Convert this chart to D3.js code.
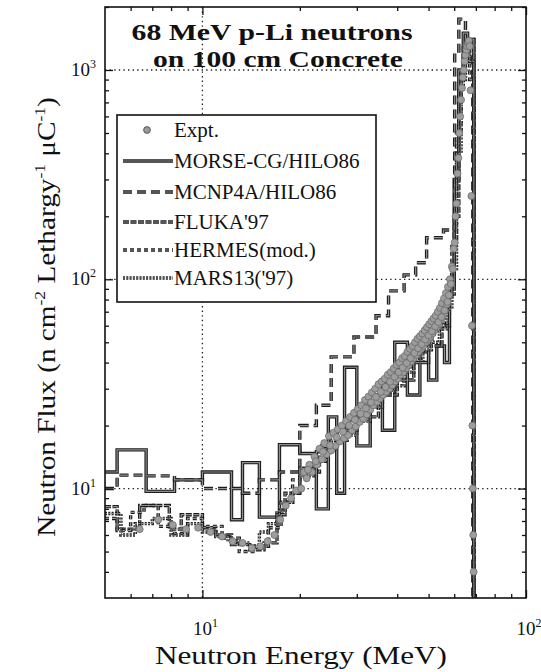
<!DOCTYPE html>
<html>
<head>
<meta charset="utf-8">
<script src="https://cdn.jsdelivr.net/npm/d3@7"></script>
<style>
  html, body { margin: 0; padding: 0; background: #fff; }
  svg { display: block; }
  text { font-family: "Liberation Serif", "Times New Roman", serif; fill: #111; }
</style>
</head>
<body>
<svg id="chart" width="541" height="672"></svg>
<script>
// ---- data: step spectra (bin edges in MeV, flux per bin) ----
const morseEdges = [5, 5.45, 6.7, 8.2, 10, 12.3, 13.3, 15, 17.3, 20, 22.5, 24.5, 26, 27.5, 30, 33, 36, 39.3, 43, 47, 50, 53, 56, 58, 60, 62, 64, 66, 69];
const morseFlux  = [12, 15.3, 9.7, 11, 12, 7.1, 13.3, 7.3, 16.2, 14.7, 8.0, 22, 9.5, 38, 16, 28, 19, 50, 28, 45, 33, 48, 40, 95, 300, 1000, 1500, 1400];

const mcnpEdges = [5, 5.45, 6.7, 8.2, 10, 12.3, 13.3, 15, 17.3, 20, 22.5, 25, 29.4, 31, 34.4, 37.6, 42, 45.6, 49.3, 55.6, 60.2, 62, 65, 68.5];
const mcnpFlux  = [10, 11.6, 11.5, 11, 10, 10, 9.5, 11, 12, 20, 25, 42.6, 53, 53, 67, 88, 105, 120, 158, 172, 1200, 1750, 1200];

const flukaEdges = [5, 5.45, 6.4, 7.9, 8.6, 10, 11, 12.3, 14, 15.5, 17, 18, 20, 22.5, 25, 27.5, 30, 35, 40, 45, 50, 55, 58, 60, 62, 64, 66, 69];
const flukaFlux  = [8.2, 6.4, 8.3, 6.4, 7.5, 6.5, 6.0, 5.4, 5.1, 5.5, 7.5, 9.5, 12.5, 15, 17, 19, 22, 28, 33, 40, 48, 60, 85, 200, 800, 1300, 1400];

const hermesEdges = [5, 5.45, 6.0, 6.6, 7.3, 8.2, 9, 10, 11.5, 13, 14.5, 16, 17.5, 19, 21, 23, 26, 29, 32, 36, 40, 44, 48, 52, 56, 59, 61, 63, 65, 67, 69];
const hermesFlux  = [7.2, 6.3, 7.7, 8.3, 6.6, 6.1, 7.2, 6.6, 5.8, 5.0, 5.3, 6.5, 8.6, 11, 12, 16, 18.5, 22, 26, 32, 37, 45, 52, 62, 80, 150, 500, 1000, 1300, 900];

const marsEdges = [5, 5.6, 6.2, 7, 8, 9, 10, 11, 12, 13, 14, 15, 16, 17, 18, 19, 20, 22, 24, 26, 28, 30, 33, 36, 39, 42, 45, 48, 51, 54, 57, 59, 61, 63, 65, 67, 69];
const marsFlux  = [7.6, 6.0, 6.8, 7.2, 6.0, 6.8, 6.2, 5.9, 5.6, 5.5, 5.3, 6.2, 6.8, 7.8, 8.6, 9.5, 11.5, 13.5, 15.5, 17, 18, 21, 24.5, 29, 31, 36, 41, 46, 50, 58, 72, 110, 400, 900, 1200, 1100];

// ---- data: measured spectrum ----
const exptEnergy = [
  6.4, 7.3, 8.1, 8.9, 9.7, 10.6, 11.5, 12.4, 13.3, 14.2, 15.1, 15.9, 16.7, 17.4, 18.1, 18.8, 19.5,
  20.2, 20.6, 21.0, 21.4, 21.8, 22.2, 22.6, 23.0, 23.4, 23.8, 24.2, 24.6, 25.0, 25.4, 25.8, 26.2, 26.6, 27.0, 27.4, 27.8,
  28.2, 28.6, 29.0, 29.4, 29.8, 30.2, 30.6, 31.0, 31.4, 31.8, 32.2, 32.6, 33.0, 33.4, 33.8, 34.2, 34.6, 35.0, 35.4, 35.8,
  36.2, 36.6, 37.0, 37.4, 37.8, 38.2, 38.6, 39.0, 39.4, 39.8, 40.2, 40.6, 41.0, 41.4, 41.8, 42.2, 42.6, 43.0, 43.4, 43.8,
  44.2, 44.6, 45.0, 45.4, 45.8, 46.2, 46.6, 47.0, 47.4, 47.8, 48.2, 48.6, 49.0, 49.4, 49.8, 50.2, 50.6, 51.0, 51.4, 51.8,
  52.2, 52.6, 53.0, 53.4, 53.8, 54.2, 54.6, 55.0, 55.4, 55.8, 56.2, 56.6, 57.0, 57.4, 57.8, 58.2, 58.6, 59.0, 59.4, 59.8,
  60.2, 60.6, 61.0, 61.4, 61.8, 62.2, 62.6, 63.0, 63.4, 63.8, 64.2, 64.6, 65.0, 65.4, 65.8, 66.2, 66.6, 67.0, 67.4, 67.8,
  68.1, 68.3, 68.5, 68.7, 68.9,
  // readings between the two scatter rows of the band
  21.2, 22.4, 23.6, 24.8, 26.0, 27.2, 28.4, 29.6, 30.8, 32.0, 33.2, 34.4, 35.6, 36.8, 38.0, 39.2, 40.4, 41.6, 42.8, 44.0,
  45.2, 46.4, 47.6, 48.8, 50.0, 51.2, 52.4, 53.6, 54.8, 56.0, 57.2
];
const exptFlux = [
  6.4, 7.1, 6.7, 6.4, 6.5, 6.2, 5.9, 5.6, 5.5, 5.2, 5.3, 5.6, 6.0, 7.1, 8.3, 9.0, 9.8,
  10.0, 12.0, 11.2, 13.0, 12.0, 14.2, 13.0, 15.5, 13.8, 16.5, 14.6, 17.8, 15.2, 18.5, 16.0, 19.2, 16.8, 20.0, 17.4, 21.0,
  18.0, 22.0, 19.0, 23.0, 19.8, 24.0, 20.8, 25.0, 21.6, 26.5, 22.6, 27.5, 23.8, 28.8, 25.0, 30.0, 26.0, 31.5, 27.0, 32.5,
  28.0, 33.5, 29.0, 35.0, 30.0, 36.0, 31.2, 37.5, 32.5, 39.0, 33.5, 40.0, 35.0, 42.0, 36.0, 43.0, 37.5, 45.0, 39.0, 46.5,
  40.5, 48.0, 42.0, 50.0, 43.5, 52.0, 45.0, 53.5, 46.5, 55.0, 48.0, 57.0, 50.0, 59.0, 51.5, 61.0, 53.0, 63.0, 55.0, 65.0,
  57.0, 67.0, 59.0, 70.0, 61.0, 73.0, 64.0, 77.0, 67.0, 81.0, 71.0, 86.0, 76.0, 92.0, 84.0, 100, 95, 115, 112, 140,
  150, 200, 230, 320, 380, 500, 600, 720, 820, 920, 1000, 1100, 1180, 1250, 1300, 1350, 1380, 1300, 800, 250,
  60, 20, 10, 6, 4,
  12.3, 13.5, 15.0, 16.1, 17.6, 18.7, 20.0, 21.3, 22.8, 24.2, 25.8, 27.4, 29.0, 30.6, 32.4, 34.2, 36.0, 37.8, 39.8, 42.0,
  44.4, 46.8, 49.0, 51.6, 54.0, 56.5, 59.5, 62.5, 66.0, 71.0, 78.0
];

// ---- axis tick values ----
const xMajorTicks = [10, 100];
const xMinorTicks = [6, 7, 8, 9, 20, 30, 40, 50, 60, 70, 80, 90];
const yMajorTicks = [10, 100, 1000];
const yMinorTicks = [4, 5, 6, 7, 8, 9, 20, 30, 40, 50, 60, 70, 80, 90, 200, 300, 400, 500, 600, 700, 800, 900, 2000];
const xTickLabels = [{ v: 10, base: "10", exp: "1" }, { v: 100, base: "10", exp: "2" }];
const yTickLabels = [{ v: 10, base: "10", exp: "1" }, { v: 100, base: "10", exp: "2" }, { v: 1000, base: "10", exp: "3" }];

const legendNames = ["Expt.", "MORSE-CG/HILO86", "MCNP4A/HILO86", "FLUKA'97", "HERMES(mod.)", "MARS13('97)"];

// ---- layout ----
const svg = d3.select("#chart");
const plot = { left: 105, right: 526, top: 7, bottom: 598 };
const x = d3.scaleLog().domain([5, 100]).range([plot.left, plot.right]);
const y = d3.scaleLog().domain([3, 2000]).range([plot.bottom, plot.top]);

svg.append("defs").append("clipPath").attr("id", "plotClip")
  .append("rect")
  .attr("x", plot.left).attr("y", plot.top)
  .attr("width", plot.right - plot.left).attr("height", plot.bottom - plot.top);

// dotted decade grid
const grid = svg.append("g").attr("stroke", "#222").attr("stroke-width", 1.3)
  .attr("stroke-dasharray", "1.4,3.2");
yMajorTicks.forEach(v => grid.append("line")
  .attr("x1", plot.left).attr("x2", plot.right).attr("y1", y(v)).attr("y2", y(v)));
[10].forEach(v => grid.append("line")
  .attr("x1", x(v)).attr("x2", x(v)).attr("y1", plot.top).attr("y2", plot.bottom));

// series
const series = [
  { name: legendNames[1], edges: morseEdges, flux: morseFlux, dash: null },
  { name: legendNames[2], edges: mcnpEdges, flux: mcnpFlux, dash: "9,5" },
  { name: legendNames[3], edges: flukaEdges, flux: flukaFlux, dash: "6,1.5" },
  { name: legendNames[4], edges: hermesEdges, flux: hermesFlux, dash: "4,3" },
  { name: legendNames[5], edges: marsEdges, flux: marsFlux, dash: "2,1.3" }
];

const stepLine = d3.line()
  .x(d => x(d[0])).y(d => y(d[1]))
  .curve(d3.curveStepAfter);

const lines = svg.append("g").attr("clip-path", "url(#plotClip)").attr("fill", "none");

function drawStroke(g, d, dash) {
  g.append("path").attr("d", d).attr("stroke", "#1c1c1c").attr("stroke-width", 3.4)
    .attr("stroke-dasharray", dash);
  g.append("path").attr("d", d).attr("stroke", "#8f8f8f").attr("stroke-width", 1.2)
    .attr("stroke-dasharray", dash);
}

series.forEach(s => {
  const pts = s.edges.map((e, i) => [e, s.flux[Math.min(i, s.flux.length - 1)]]);
  pts.push([s.edges[s.edges.length - 1], 1]); // cut-off at the end-point energy
  drawStroke(lines.append("g"), stepLine(pts), s.dash);
});

// measured points
const expt = exptEnergy.map((e, i) => ({ e, v: exptFlux[i] }));
svg.append("g").attr("clip-path", "url(#plotClip)")
  .selectAll("circle").data(expt).join("circle")
  .attr("cx", d => x(d.e)).attr("cy", d => y(d.v)).attr("r", 3.5)
  .attr("fill", "#9d9d9d").attr("stroke", "#666").attr("stroke-width", 0.7);

// axes: inward ticks on all four sides
function tickAxis(axisFn, scale, values, size, transform) {
  const g = svg.append("g").attr("transform", transform)
    .call(axisFn(scale).tickValues(values).tickSize(-size).tickFormat(""));
  g.select(".domain").remove();
  g.selectAll(".tick line").attr("stroke", "#111").attr("stroke-width", 1.3);
}
tickAxis(d3.axisBottom, x, xMajorTicks, 8, `translate(0,${plot.bottom})`);
tickAxis(d3.axisBottom, x, xMinorTicks, 4, `translate(0,${plot.bottom})`);
tickAxis(d3.axisTop, x, xMajorTicks, 8, `translate(0,${plot.top})`);
tickAxis(d3.axisTop, x, xMinorTicks, 4, `translate(0,${plot.top})`);
tickAxis(d3.axisLeft, y, yMajorTicks, 8, `translate(${plot.left},0)`);
tickAxis(d3.axisLeft, y, yMinorTicks, 4, `translate(${plot.left},0)`);
tickAxis(d3.axisRight, y, yMajorTicks, 8, `translate(${plot.right},0)`);
tickAxis(d3.axisRight, y, yMinorTicks, 4, `translate(${plot.right},0)`);

svg.append("rect")
  .attr("x", plot.left).attr("y", plot.top)
  .attr("width", plot.right - plot.left).attr("height", plot.bottom - plot.top)
  .attr("fill", "none").attr("stroke", "#111").attr("stroke-width", 1.6);

// tick labels with superscript exponents
yTickLabels.forEach(t => {
  const tx = svg.append("text").attr("x", 96).attr("y", y(t.v) + 6)
    .attr("text-anchor", "end").attr("font-size", 19);
  tx.append("tspan").text(t.base);
  tx.append("tspan").attr("dy", -8).attr("font-size", 12).text(t.exp);
});
xTickLabels.forEach(t => {
  const tx = svg.append("text").attr("x", x(t.v) + 3).attr("y", 635)
    .attr("text-anchor", "middle").attr("font-size", 19);
  tx.append("tspan").text(t.base);
  tx.append("tspan").attr("dy", -8).attr("font-size", 12).text(t.exp);
});

// axis titles
svg.append("text").attr("x", 301).attr("y", 664).attr("text-anchor", "middle")
  .attr("font-size", 26).attr("textLength", 292).attr("lengthAdjust", "spacingAndGlyphs")
  .text("Neutron Energy (MeV)");

const yTitle = svg.append("text")
  .attr("transform", "translate(55,317) rotate(-90) scale(1.17,1)")
  .attr("text-anchor", "middle").attr("font-size", 25);
yTitle.append("tspan").text("Neutron Flux (n cm");
yTitle.append("tspan").attr("dy", -10).attr("font-size", 15).text("-2");
yTitle.append("tspan").attr("dy", 10).text(" Lethargy");
yTitle.append("tspan").attr("dy", -10).attr("font-size", 15).text("-1");
yTitle.append("tspan").attr("dy", 10).text(" \u03BCC");
yTitle.append("tspan").attr("dy", -10).attr("font-size", 15).text("-1");
yTitle.append("tspan").attr("dy", 10).text(")");

// chart title
const title = svg.append("g").attr("font-weight", "bold");
title.append("text").attr("x", 272).attr("y", 40).attr("text-anchor", "middle")
  .attr("font-size", 24).attr("font-weight", "bold")
  .attr("textLength", 281).attr("lengthAdjust", "spacingAndGlyphs")
  .text("68 MeV p-Li neutrons");
title.append("text").attr("x", 278).attr("y", 67).attr("text-anchor", "middle")
  .attr("font-size", 24).attr("font-weight", "bold")
  .attr("textLength", 250).attr("lengthAdjust", "spacingAndGlyphs")
  .text("on 100 cm Concrete");

// legend
const lg = svg.append("g");
lg.append("rect").attr("x", 117).attr("y", 115).attr("width", 259).attr("height", 187)
  .attr("fill", "#fff").attr("stroke", "#111").attr("stroke-width", 1.6);
const rowY = [130, 161, 192, 222, 250, 278];
lg.append("circle").attr("cx", 147).attr("cy", rowY[0]).attr("r", 3.4)
  .attr("fill", "#9a9a9a").attr("stroke", "#444").attr("stroke-width", 0.8);
series.forEach((s, i) => {
  const yy = rowY[i + 1];
  drawStroke(lg.append("g"), `M123,${yy}H173`, s.dash);
});
legendNames.forEach((n, i) => {
  lg.append("text").attr("x", 174).attr("y", rowY[i] + 7)
    .attr("font-size", 21).text(n);
});
</script>
</body>
</html>
